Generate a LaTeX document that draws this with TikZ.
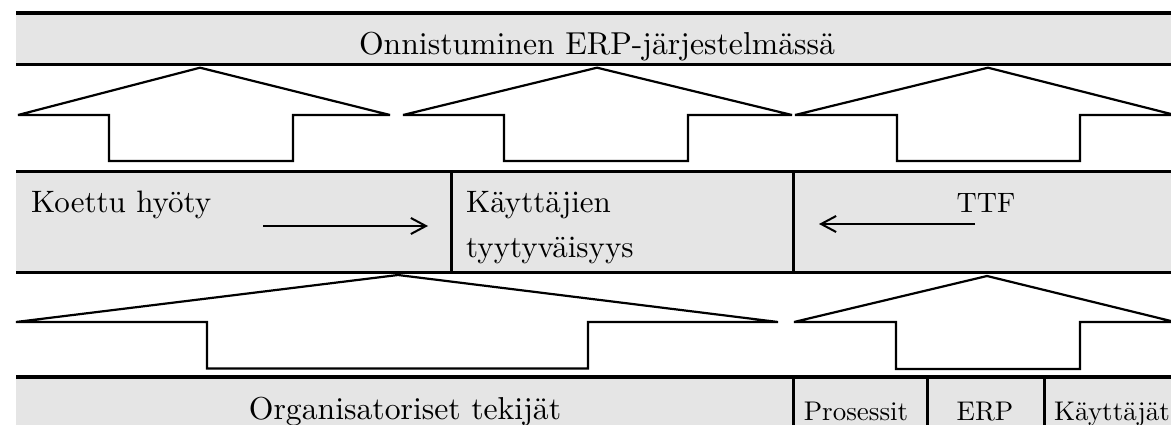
\documentclass[tikz,border=0pt]{standalone}
\usepackage{fontspec}
\setmainfont{lmroman10-regular}[Extension=.otf]
\usetikzlibrary{arrows.meta}
\definecolor{bandgray}{HTML}{E5E5E5}
\tikzset{
  bandfill/.style={fill=bandgray, draw=none},
  bandline/.style={line width=3.6pt},
  divline/.style={line width=3pt},
  blockarrow/.style={draw=black, fill=white, line width=2.2pt, line join=miter, miter limit=2},
  thinarrow/.style={line width=2pt, -{Straight Barb[length=15pt,width=16pt,line width=2pt]}},
  bigtxt/.style={inner sep=0pt, font=\fontsize{31.7}{38}\selectfont},
  midtxt/.style={inner sep=0pt, font=\fontsize{31}{38}\selectfont},
  ttftxt/.style={inner sep=0pt, font=\fontsize{28}{32}\selectfont},
  celltxt/.style={inner sep=0pt, font=\fontsize{27}{32}\selectfont},
}
\begin{document}
\begin{tikzpicture}[x=1pt,y=-1pt]
\clip (0,0) rectangle (1171,425);
\useasboundingbox (0,0) rectangle (1171,425);

% bands
\path[bandfill] (16,13) rectangle (1171,64.5);
\path[bandfill] (16,171.7) rectangle (1171,272.3);
\path[bandfill] (16,376.7) rectangle (1171,430);

\draw[bandline] (16,13) -- (1171,13);
\draw[bandline] (16,64.5) -- (1171,64.5);
\draw[bandline] (16,171.7) -- (1171,171.7);
\draw[bandline] (16,272.3) -- (1171,272.3);
\draw[bandline] (16,376.7) -- (1171,376.7);

% dividers
\draw[divline] (451,171.7) -- (451,274);
\draw[divline] (793,171.7) -- (793,274);
\draw[divline] (793,376.7) -- (793,430);
\draw[divline] (927,376.7) -- (927,430);
\draw[divline] (1044,376.7) -- (1044,430);

% block arrows, upper row
\draw[blockarrow] (200,67.7) -- (390,115) -- (293,115) -- (293,161) -- (109,161) -- (109,115) -- (18,115) -- cycle;
\draw[blockarrow] (597,67.7) -- (792,115) -- (688,115) -- (688,161) -- (504,161) -- (504,115) -- (403,115) -- cycle;
\draw[blockarrow] (988,67.7) -- (1175,115) -- (1080,115) -- (1080,161) -- (897,161) -- (897,115) -- (795,115) -- cycle;

% block arrows, lower row
\draw[blockarrow] (398,275) -- (778,322) -- (588,322) -- (588,368.5) -- (207,368.5) -- (207,322) -- (16,322) -- cycle;
\draw[blockarrow] (987,276) -- (1175,322) -- (1080,322) -- (1080,369) -- (896,369) -- (896,322) -- (794,322) -- cycle;

% texts
\node[bigtxt, anchor=base] (success) at (597,55) {Onnistuminen ERP-järjestelmässä};
\node[midtxt, anchor=base west] (benefit) at (31,212) {Koettu hyöty};
\node[midtxt, anchor=base west] (sat1) at (466,212) {Käyttäjien};
\node[midtxt, anchor=base west] (sat2) at (466,258) {tyytyväisyys};
\node[ttftxt, anchor=base] (ttf) at (986,212) {TTF};
\node[bigtxt, anchor=base] (org) at (405,419) {Organisatoriset tekijät};
\node[celltxt, anchor=base] (proc) at (856,420) {Prosessit};
\node[celltxt, anchor=base] (erp) at (985,420) {ERP};
\node[celltxt, anchor=base] (users) at (1112,420) {Käyttäjät};

% small arrows
\coordinate (a1s) at (263,226);
\coordinate (a1e) at (428,226);
\coordinate (a2s) at (975,224);
\coordinate (a2e) at (819,224);
\draw[thinarrow] (a1s) -- (a1e);
\draw[thinarrow] (a2s) -- (a2e);
\end{tikzpicture}
\end{document}
